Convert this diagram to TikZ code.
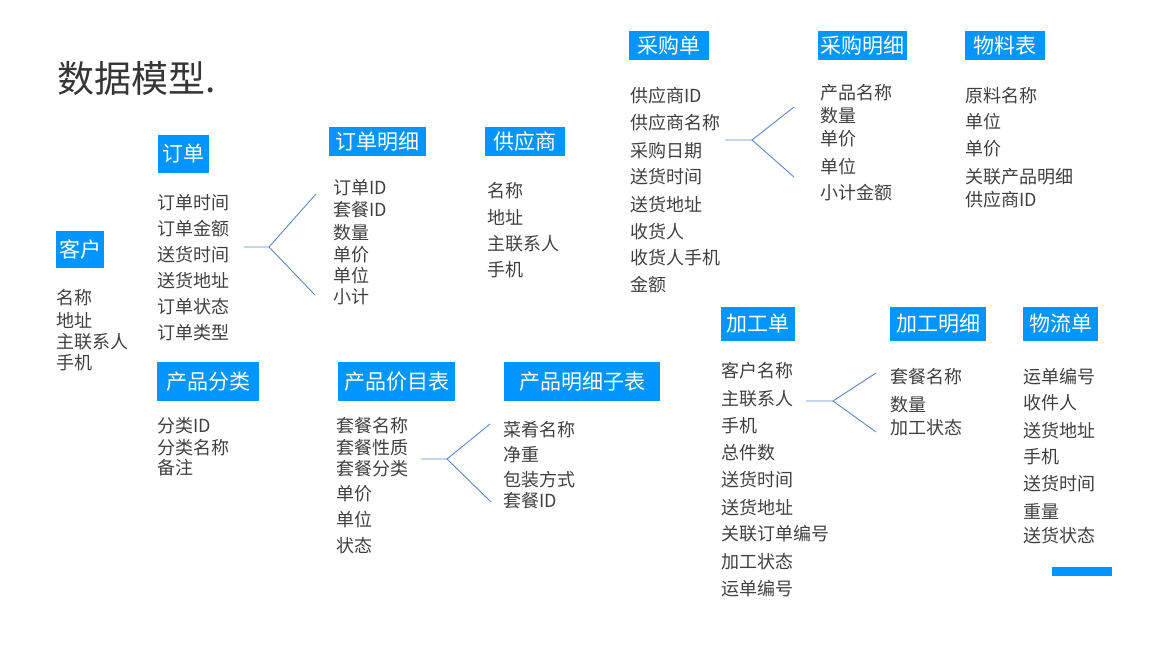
\documentclass[tikz,border=0pt]{standalone}
\usepackage{fontspec}
\setmainfont{Noto Sans CJK SC}
\definecolor{hdrblue}{HTML}{0095FF}
\definecolor{txtgray}{HTML}{404040}
\definecolor{forkblue}{HTML}{5B87C7}

\begin{document}
\begin{tikzpicture}[x=1pt, y=-1pt,
		hdr/.style={fill=hdrblue, text=white, inner sep=0, font=\fontsize{21}{21}\selectfont},
		itm/.style={anchor=west, inner sep=0, text=txtgray, font=\fontsize{18}{18}\selectfont},
		fork/.style={draw=forkblue, line width=0.9pt}
		]
	\useasboundingbox (0,0) rectangle (1169,655);
	\node[anchor=west, inner sep=0, text=txtgray!85!black, font=\fontsize{37}{37}\selectfont] (title) at (57,78) {数据模型.};

	% headers
	\node[hdr, minimum width=48, minimum height=37] (kehu) at (80,249.5) {客户};
	\node[hdr, minimum width=51, minimum height=38] (dingdan) at (183.5,154) {订单};
	\node[hdr, minimum width=97, minimum height=29] (ddmx) at (377.5,141.5) {订单明细};
	\node[hdr, minimum width=80, minimum height=29] (gys) at (525,141.5) {供应商};
	\node[hdr, minimum width=80, minimum height=29] (cgd) at (669,45.5) {采购单};
	\node[hdr, minimum width=89, minimum height=29] (cgmx) at (862.5,45.5) {采购明细};
	\node[hdr, minimum width=80, minimum height=29] (wlb) at (1005,45.5) {物料表};
	\node[hdr, minimum width=102, minimum height=39] (cpfl) at (208,381.5) {产品分类};
	\node[hdr, minimum width=117, minimum height=39] (cpjm) at (396.5,381.5) {产品价目表};
	\node[hdr, minimum width=156, minimum height=39] (cpmx) at (582,381.5) {产品明细子表};
	\node[hdr, minimum width=74, minimum height=34] (jgd) at (758,324) {加工单};
	\node[hdr, minimum width=96, minimum height=34] (jgmx) at (938,324) {加工明细};
	\node[hdr, minimum width=75, minimum height=34] (wld) at (1060.5,324) {物流单};
	\node[fill=hdrblue, inner sep=0, minimum width=60, minimum height=9] (bar) at (1082,571.5) {};

	% fields
	\foreach \t/\y [count=\i] in {名称/298, 地址/320, 主联系人/342, 手机/363}
		\node[itm] (kh\i) at (56,\y) {\t};
	\foreach \t/\y [count=\i] in {订单时间/203, 订单金额/229, 送货时间/255, 送货地址/281, 订单状态/307, 订单类型/333}
		\node[itm] (dd\i) at (157,\y) {\t};
	\foreach \t/\y [count=\i] in {订单ID/188, 套餐ID/210, 数量/233, 单价/255, 单位/276, 小计/297}
		\node[itm] (mx\i) at (333,\y) {\t};
	\foreach \t/\y [count=\i] in {名称/191, 地址/217, 主联系人/244, 手机/270}
		\node[itm] (gy\i) at (487,\y) {\t};
	\foreach \t/\y [count=\i] in {供应商ID/96, 供应商名称/123, 采购日期/151, 送货时间/177, 送货地址/205, 收货人/232, 收货人手机/258, 金额/285}
		\node[itm] (cg\i) at (630,\y) {\t};
	\foreach \t/\y [count=\i] in {产品名称/93, 数量/116, 单价/139, 单位/167, 小计金额/193}
		\node[itm] (cm\i) at (820,\y) {\t};
	\foreach \t/\y [count=\i] in {原料名称/96, 单位/122, 单价/149, 关联产品明细/177, 供应商ID/200}
		\node[itm] (wl\i) at (965,\y) {\t};
	\foreach \t/\y [count=\i] in {分类ID/426, 分类名称/448, 备注/468}
		\node[itm] (fl\i) at (157,\y) {\t};
	\foreach \t/\y [count=\i] in {套餐名称/426, 套餐性质/448, 套餐分类/469, 单价/494, 单位/520, 状态/546}
		\node[itm] (jm\i) at (336,\y) {\t};
	\foreach \t/\y [count=\i] in {菜肴名称/430, 净重/455, 包装方式/480, 套餐ID/501}
		\node[itm] (zb\i) at (503,\y) {\t};
	\foreach \t/\y [count=\i] in {客户名称/371, 主联系人/399, 手机/426, 总件数/453, 送货时间/480, 送货地址/508, 关联订单编号/534, 加工状态/562, 运单编号/589}
		\node[itm] (jg\i) at (721,\y) {\t};
	\foreach \t/\y [count=\i] in {套餐名称/377, 数量/405, 加工状态/428}
		\node[itm] (jx\i) at (890,\y) {\t};
	\foreach \t/\y [count=\i] in {运单编号/377, 收件人/403, 送货地址/431, 手机/457, 送货时间/484, 重量/511, 送货状态/536}
		\node[itm] (wd\i) at (1023,\y) {\t};

	% forks
	\coordinate (dd-s) at (244,247); \coordinate (dd-j) at (269,247);
	\coordinate (dd-u) at (316,194); \coordinate (dd-l) at (315,295);
	\draw[fork] (dd-s) -- (dd-j) -- (dd-u) (dd-j) -- (dd-l);
	\coordinate (cg-s) at (725,140); \coordinate (cg-j) at (752,140);
	\coordinate (cg-u) at (794,107); \coordinate (cg-l) at (794,177);
	\draw[fork] (cg-s) -- (cg-j) -- (cg-u) (cg-j) -- (cg-l);
	\coordinate (jm-s) at (421,459); \coordinate (jm-j) at (447,459);
	\coordinate (jm-u) at (490,424); \coordinate (jm-l) at (491,502);
	\draw[fork] (jm-s) -- (jm-j) -- (jm-u) (jm-j) -- (jm-l);
	\coordinate (jg-s) at (806,401); \coordinate (jg-j) at (833,401);
	\coordinate (jg-u) at (876,373); \coordinate (jg-l) at (876,432);
	\draw[fork] (jg-s) -- (jg-j) -- (jg-u) (jg-j) -- (jg-l);
\end{tikzpicture}
\end{document}
